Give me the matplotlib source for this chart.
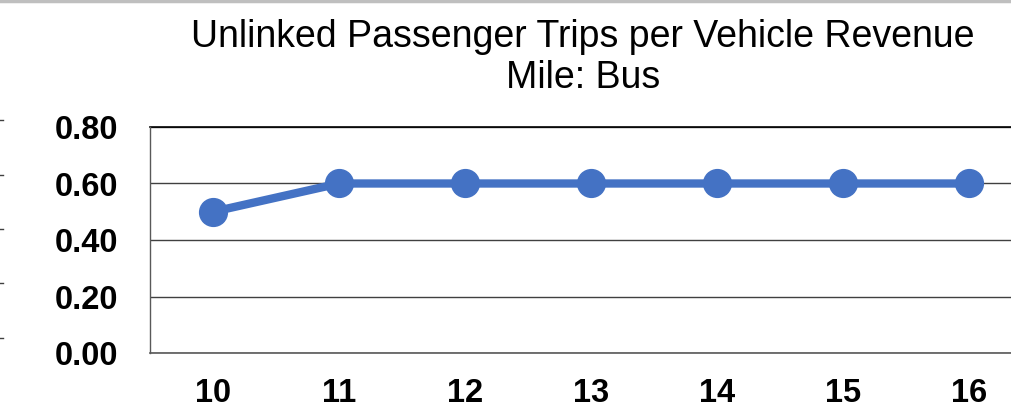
import matplotlib.pyplot as plt
from matplotlib.lines import Line2D

years = [10, 11, 12, 13, 14, 15, 16]
trips_per_mile = [0.50, 0.60, 0.60, 0.60, 0.60, 0.60, 0.60]
y_ticks = [0.0, 0.2, 0.4, 0.6, 0.8]
title_lines = ["Unlinked Passenger Trips per Vehicle Revenue", "Mile: Bus"]

plt.rcParams['font.family'] = ['Liberation Sans', 'DejaVu Sans']

fig = plt.figure(figsize=(10.11, 4.15), dpi=100)
W, H = 1011, 415
ax = fig.add_axes([150 / W, 1 - 353 / H, 882 / W, 226 / H])

x = list(range(len(years)))
ax.plot(x, trips_per_mile, color='#4472C4', linewidth=6, marker='o',
        markersize=20, zorder=3, clip_on=False)

ax.set_xlim(-0.5, len(years) - 0.5)
ax.set_ylim(0, 0.8)
ax.set_yticks(y_ticks)
ax.set_yticklabels([f"{v:.2f}" for v in y_ticks], fontsize=23.5, fontweight='bold')
ax.set_xticks(x)
ax.set_xticklabels([str(y) for y in years], fontsize=23.5, fontweight='bold')
ax.tick_params(length=0)
ax.tick_params(axis='y', pad=23)
ax.tick_params(axis='x', pad=18)

ax.grid(axis='y', color='#404040', linewidth=1)
ax.axhline(0, color='#595959', linewidth=1.2, clip_on=False, zorder=1)
ax.axhline(0.8, color='#000000', linewidth=1.2, clip_on=False, zorder=1)
ax.set_axisbelow(True)
for s in ['top', 'right', 'bottom']:
    ax.spines[s].set_visible(False)
ax.spines['left'].set_color('#595959')
ax.spines['left'].set_linewidth(1)

fig.text(583 / W, 1 - 47 / H, title_lines[0], ha='center', va='baseline', fontsize=27)
fig.text(583 / W, 1 - 88 / H, title_lines[1], ha='center', va='baseline', fontsize=27)

# grey strip at the top edge
fig.add_artist(Line2D([0, 1], [1 - 1.5 / H, 1 - 1.5 / H], color='#bfbfbf', linewidth=2.5))
# tick stubs from the neighbouring chart on the left edge
for yy in [120, 175, 229, 283, 338]:
    fig.add_artist(Line2D([0, 3 / W], [1 - yy / H, 1 - yy / H], color='#404040', linewidth=1))

fig.savefig('out.png', dpi=100)
